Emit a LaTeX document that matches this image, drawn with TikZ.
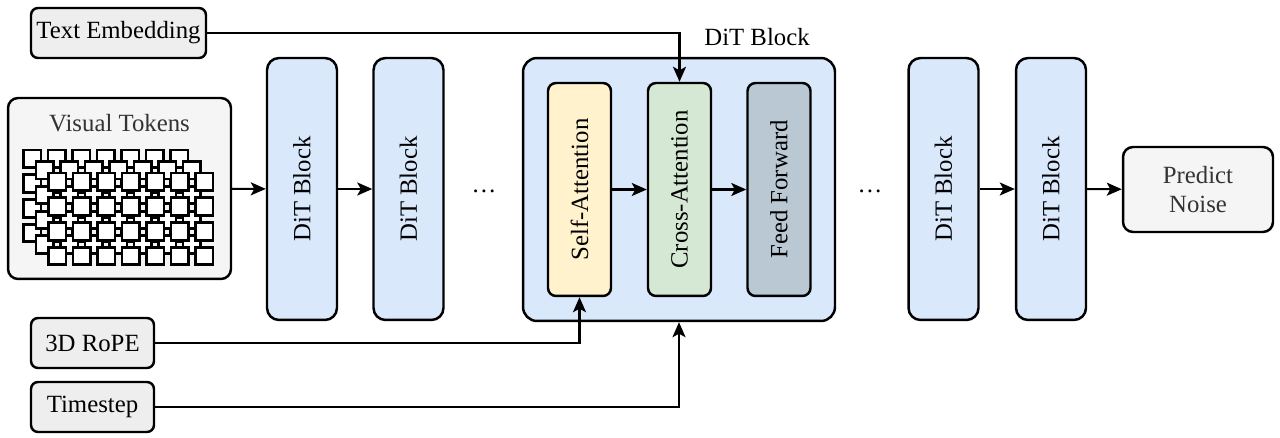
\documentclass[tikz,border=0pt]{standalone}
\usepackage{fontspec}
\setmainfont{Liberation Serif}
\usepackage{tikz}
\usetikzlibrary{arrows.meta}
\usetikzlibrary{positioning}

\definecolor{ditblue}{HTML}{DAE8FC}
\definecolor{attyellow}{HTML}{FFF2CC}
\definecolor{attgreen}{HTML}{D5E8D4}
\definecolor{ffgray}{HTML}{BAC8D3}
\definecolor{inputgray}{HTML}{EEEEEE}
\definecolor{lightgray}{HTML}{F5F5F5}
\definecolor{labelgray}{HTML}{333333}

\begin{document}
\begin{tikzpicture}[x=0.02cm, y=-0.02cm, line width=1.2pt,
		font=\fontsize{14.1}{16.8}\selectfont,
		ditblock/.style={draw, line width=1.4pt, rounded corners=0.24cm, fill=ditblue, rotate=90, minimum width=5.24cm, minimum height=1.4cm, inner sep=0pt},
		subblock/.style={draw, line width=1.4pt, rounded corners=0.16cm, rotate=90, minimum width=4.26cm, minimum height=1.26cm, inner sep=0pt},
		inbox/.style={draw, line width=1.4pt, rounded corners=0.14cm, fill=inputgray, minimum height=1cm, inner sep=0pt},
		token/.style={draw, fill=white, line width=1.6pt},
		arr/.style={-{Stealth[length=0.3cm, width=0.26cm, inset=0.07cm]}}]
		\useasboundingbox (0,0) rectangle (1280,438);
		
		% inputs
		\node[inbox, minimum width=3.5cm] (te) at (118.5, 33) {Text Embedding};
		\node[inbox, minimum width=2.46cm] (rope) at (92.5, 343) {3D RoPE};
		\node[inbox, minimum width=2.46cm] (tstep) at (92.5, 407) {Timestep};
		
		% visual tokens
		\node[draw, line width=1.4pt, rounded corners=0.2cm, fill=lightgray, minimum width=4.46cm, minimum height=3.62cm] (vt) at (119.5, 188.5) {};
		\node[text=labelgray] (vtlbl) at (119.5, 123) {Visual Tokens};
		\foreach \l in {0,1,2}
			\foreach \i in {0,...,6}
				\foreach \j in {0,...,3}
					\draw[token] ({23.5+12.5*\l+24.5*\i}, {150+11.5*\l+24.8*\j}) rectangle ++(17.5,17.5);
		
		% DiT blocks
		\node[ditblock] (dit1) at (302, 189) {DiT Block};
		\node[ditblock] (dit2) at (408.5, 189) {DiT Block};
		\node (dots1) at (484, 191) {\ldots};
		
		\node[draw, line width=1.4pt, rounded corners=0.28cm, fill=ditblue, minimum width=6.24cm, minimum height=5.26cm] (dit) at (679, 189.5) {};
		\node (ditlbl) at (757, 37) {DiT Block};
		\node[subblock, fill=attyellow] (sa) at (579.5, 189.5) {Self-Attention};
		\node[subblock, fill=attgreen] (ca) at (679.5, 189.5) {Cross-Attention};
		\node[subblock, fill=ffgray] (ff) at (779, 189.5) {Feed Forward};
		
		\node (dots2) at (870, 191) {\ldots};
		\node[ditblock] (dit4) at (943.5, 189) {DiT Block};
		\node[ditblock] (dit5) at (1051, 189) {DiT Block};
		
		\node[draw, line width=1.4pt, rounded corners=0.2cm, fill=lightgray, text=labelgray, align=center, minimum width=3cm, minimum height=1.7cm] (pn) at (1198, 189.5) {Predict\\Noise};
		
		% connections
		\draw[arr] (vt) -- (dit1);
		\draw[arr] (dit1) -- (dit2);
		\draw[arr] (sa) -- (ca);
		\draw[arr] (ca) -- (ff);
		\draw[arr] (dit4) -- (dit5);
		\draw[arr] (dit5) -- (pn);
		\draw[arr] (te.east) -| (ca.east);
		\draw[arr] (rope.east) -| (sa.west);
		\draw[arr] (tstep.east) -| (dit.south);
	\end{tikzpicture}
\end{document}
